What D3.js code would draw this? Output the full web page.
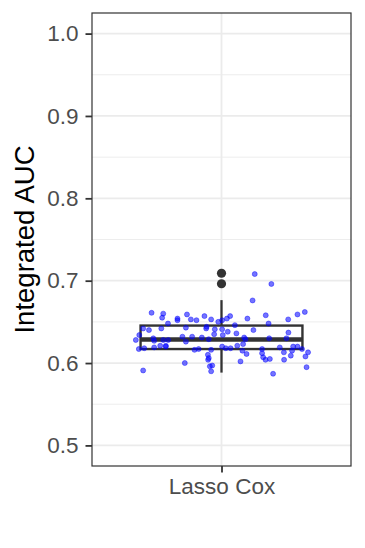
<!DOCTYPE html>
<html lang="en">
<head>
  <meta charset="UTF-8" />
  <title>Integrated AUC</title>
  <style>
    body { margin: 0; background: #fff; }
    .grid line { stroke: #ebebeb; }
    .axis text { font-family: "Liberation Sans", Arial, sans-serif; fill: #4d4d4d; }
    .axis line { stroke: #333; }
    .axis path { display: none; }
  </style>
</head>
<body>
  <svg width="365" height="548"></svg>
  <script src="https://d3js.org/d3.v7.min.js"></script>
  <script>
    // categories and tick labels
    const categories = ["Lasso Cox"];
    const yTicks = [0.5, 0.6, 0.7, 0.8, 0.9, 1.0];
    const yMinor = [0.55, 0.65, 0.75, 0.85, 0.95];

    // box statistics
    const boxLower = [0.5884];
    const boxQ1 = [0.617];
    const boxMedian = [0.6286];
    const boxQ3 = [0.6455];
    const boxUpper = [0.6764];
    const outliers = [0.709, 0.6963];

    // jittered points: value and horizontal jitter (in category units)
    const aucValues = [
      0.661, 0.660, 0.655, 0.654, 0.652, 0.659, 0.653, 0.652, 0.657, 0.653,
      0.650, 0.652, 0.654, 0.657, 0.654, 0.658, 0.648, 0.653, 0.659, 0.662,
      0.648, 0.642, 0.640, 0.642, 0.643, 0.644, 0.641, 0.641, 0.638, 0.646,
      0.640, 0.637, 0.635, 0.628, 0.634, 0.630, 0.627, 0.628, 0.628, 0.632,
      0.632, 0.626, 0.631, 0.629, 0.634, 0.636, 0.631, 0.629, 0.623, 0.630,
      0.630, 0.617, 0.618, 0.619, 0.621, 0.621, 0.620, 0.616, 0.617, 0.616,
      0.620, 0.618, 0.618, 0.621, 0.615, 0.611, 0.617, 0.612, 0.607, 0.604,
      0.605, 0.619, 0.613, 0.609, 0.615, 0.620, 0.620, 0.617, 0.608, 0.613,
      0.610, 0.606, 0.596, 0.597, 0.590, 0.600, 0.602, 0.604, 0.591, 0.587,
      0.595, 0.708, 0.696, 0.676, 0.604, 0.642
    ];
    const jitter = [
      -0.324, -0.270, -0.275, -0.204, -0.204, -0.160, -0.142, -0.116, -0.079, -0.048,
      -0.015, 0.003, 0.025, 0.040, 0.120, 0.205, 0.218, 0.309, 0.352, 0.386,
      -0.248, -0.363, -0.336, -0.279, -0.165, -0.069, -0.031, 0.003, 0.029, 0.062,
      0.148, 0.310, -0.034, -0.397, -0.381, -0.316, -0.312, -0.270, -0.247, -0.181,
      -0.136, -0.165, -0.091, -0.059, 0.006, 0.069, 0.105, 0.111, 0.100, 0.221,
      0.301, -0.383, -0.358, -0.312, -0.284, -0.258, -0.258, -0.125, -0.106, -0.048,
      0.003, 0.020, 0.042, 0.073, 0.097, 0.116, 0.188, 0.188, 0.193, 0.204,
      0.224, 0.270, 0.289, 0.321, 0.327, 0.332, 0.352, 0.373, 0.389, 0.401,
      -0.063, -0.059, -0.054, -0.043, -0.048, -0.170, 0.088, 0.290, -0.363, 0.239,
      0.394, 0.154, 0.231, 0.144, -0.062, -0.071
    ];

    const svg = d3.select("svg");
    const panel = { left: 92, right: 351, top: 13, bottom: 466 };

    const x = d3.scalePoint()
      .domain(categories)
      .range([panel.left, panel.right])
      .padding(0.6);
    const unit = x.step();

    const y = d3.scaleLinear()
      .domain([0.475, 1.025])
      .range([panel.bottom, panel.top]);

    // grid
    const grid = svg.append("g").attr("class", "grid");
    grid.selectAll(".minor").data(yMinor).enter().append("line")
      .attr("x1", panel.left).attr("x2", panel.right)
      .attr("y1", d => y(d)).attr("y2", d => y(d))
      .attr("stroke-width", 0.9);
    grid.selectAll(".major").data(yTicks).enter().append("line")
      .attr("x1", panel.left).attr("x2", panel.right)
      .attr("y1", d => y(d)).attr("y2", d => y(d))
      .attr("stroke-width", 1.8);
    grid.selectAll(".vmajor").data(categories).enter().append("line")
      .attr("x1", d => x(d)).attr("x2", d => x(d))
      .attr("y1", panel.top).attr("y2", panel.bottom)
      .attr("stroke-width", 1.8);

    // boxplot
    const boxW = 0.75 * unit;
    const box = svg.append("g").attr("stroke", "#333").attr("fill", "none");
    categories.forEach((c, i) => {
      const cx = x(c);
      box.append("line")
        .attr("x1", cx).attr("x2", cx)
        .attr("y1", y(boxQ3[i])).attr("y2", y(boxUpper[i]))
        .attr("stroke-width", 2.3);
      box.append("line")
        .attr("x1", cx).attr("x2", cx)
        .attr("y1", y(boxQ1[i])).attr("y2", y(boxLower[i]))
        .attr("stroke-width", 2.3);
      box.append("rect")
        .attr("x", cx - boxW / 2).attr("width", boxW)
        .attr("y", y(boxQ3[i])).attr("height", y(boxQ1[i]) - y(boxQ3[i]))
        .attr("fill", "#fff")
        .attr("stroke-width", 2.4);
      box.append("line")
        .attr("x1", cx - boxW / 2).attr("x2", cx + boxW / 2)
        .attr("y1", y(boxMedian[i])).attr("y2", y(boxMedian[i]))
        .attr("stroke-width", 4.5);
      box.selectAll(".out").data(outliers).enter().append("circle")
        .attr("cx", cx).attr("cy", d => y(d))
        .attr("r", 4.6)
        .attr("fill", "#333").attr("stroke", "none");
    });

    // jittered points
    svg.append("g").selectAll("circle")
      .data(aucValues)
      .enter().append("circle")
      .attr("cx", (d, i) => x(categories[0]) + jitter[i] * unit)
      .attr("cy", d => y(d))
      .attr("r", 2.5)
      .attr("fill", "blue")
      .attr("fill-opacity", 0.55)
      .attr("stroke", "blue")
      .attr("stroke-opacity", 0.6)
      .attr("stroke-width", 0.7);

    // panel border
    svg.append("rect")
      .attr("x", panel.left).attr("y", panel.top)
      .attr("width", panel.right - panel.left)
      .attr("height", panel.bottom - panel.top)
      .attr("fill", "none").attr("stroke", "#333").attr("stroke-width", 1.2);

    // axes
    const yAxis = svg.append("g").attr("class", "axis")
      .attr("transform", `translate(${panel.left},0)`)
      .call(d3.axisLeft(y).tickValues(yTicks).tickFormat(d3.format(".1f")).tickSize(6.5).tickPadding(7));
    yAxis.selectAll("text").attr("font-size", 22.5);
    yAxis.selectAll("line").attr("stroke-width", 1.8);

    const xAxis = svg.append("g").attr("class", "axis")
      .attr("transform", `translate(0,${panel.bottom})`)
      .call(d3.axisBottom(x).tickSize(6.5).tickPadding(6));
    xAxis.selectAll("text").attr("font-size", 22.5);
    xAxis.selectAll("line").attr("stroke-width", 1.8);

    // y title
    svg.append("text")
      .attr("transform", `translate(34,${(panel.top + panel.bottom) / 2}) rotate(-90)`)
      .attr("text-anchor", "middle")
      .attr("font-family", "Liberation Sans, Arial, sans-serif")
      .attr("font-size", 27.5)
      .attr("fill", "#000")
      .text("Integrated AUC");
  </script>
</body>
</html>
